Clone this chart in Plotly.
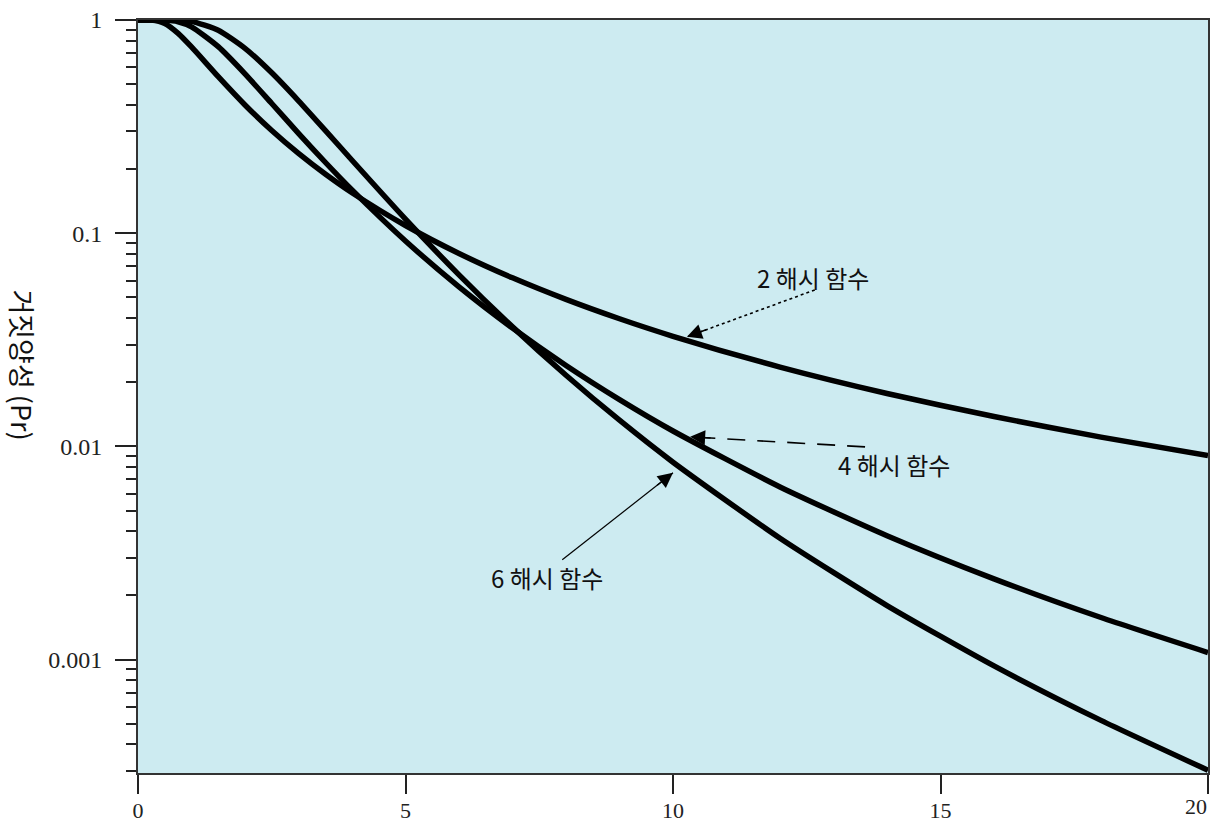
import math
import plotly.graph_objects as go

# x: bits per element (m/n)
x_vals = [0, 0.25, 0.5, 0.75, 1, 1.5, 2, 2.5, 3, 3.5, 4, 5, 6, 7, 8, 9, 10, 12, 14, 16, 18, 20]

# false positive rate for 2, 4, 6 hash functions
pr_2hash = [1.0, 0.99933, 0.9637, 0.86587, 0.74765, 0.54228, 0.39958, 0.30324, 0.23676, 0.18947,
            0.15482, 0.10869, 0.08035, 0.06176, 0.04893, 0.0397, 0.03286, 0.02357, 0.01772,
            0.01381, 0.01106, 0.009056]
pr_4hash = [1.0, 1.0, 0.99866, 0.98083, 0.92868, 0.74973, 0.55897, 0.40572, 0.29407, 0.2152,
            0.15966, 0.09195, 0.05606, 0.0359, 0.02397, 0.016577, 0.011814, 0.006457, 0.003815,
            0.002394, 0.001576, 0.00108]
pr_6hash = [1.0, 1.0, 1.0, 0.99799, 0.98522, 0.89501, 0.73609, 0.5652, 0.4179, 0.3038,
            0.21982, 0.11644, 0.0638, 0.03637, 0.021574, 0.013272, 0.008436, 0.003711, 0.001794,
            0.000935, 0.000519, 0.000303]

x_ticks = [0, 5, 10, 15, 20]
x_ticktext = ["0", "5", "10", "15", ""]   # last label drawn right-aligned below
last_x_label = "20"
y_ticks = [1, 0.1, 0.01, 0.001]
y_ticktext = ["1", "0.1", "0.01", "0.001"]

# callout labels and arrow positions (tail -> tip)
labels = ["2 해시 함수", "4 해시 함수", "6 해시 함수"]
label_x = [12.62, 14.13, 7.64]
label_y = [0.0617, 0.0082, 0.00242]
arrow_tail_x = [12.65, 13.59, 7.93]
arrow_tail_y = [0.0542, 0.00995, 0.00294]
arrow_tip_x = [10.26, 10.32, 10.0]
arrow_tip_y = [0.03266, 0.01109, 0.00752]
arrow_dash = ["dot", "18px,12px", "solid"]

fig = go.Figure()
for ys in (pr_2hash, pr_4hash, pr_6hash):
    fig.add_trace(go.Scatter(x=x_vals, y=ys, mode="lines",
                             line=dict(color="black", width=5.5, shape="spline", smoothing=0.6),
                             showlegend=False, hoverinfo="skip"))


def ly(v):
    return math.log10(v)


lab_font = dict(family="Noto Sans CJK KR, Noto Sans, sans-serif", size=24, color="#111")
for i in range(3):
    fig.add_annotation(x=label_x[i], y=ly(label_y[i]), text=labels[i], showarrow=False, font=lab_font)
    # arrow shaft
    fig.add_trace(go.Scatter(x=[arrow_tail_x[i], arrow_tip_x[i]], y=[arrow_tail_y[i], arrow_tip_y[i]],
                             mode="lines", line=dict(color="black", width=1.6 if i < 2 else 1.2,
                                                     dash=arrow_dash[i]),
                             showlegend=False, hoverinfo="skip"))
    # arrowhead: short arrow along shaft direction, in pixel offsets
    dx_px = (arrow_tail_x[i] - arrow_tip_x[i]) * 53.5
    dy_px = -(ly(arrow_tail_y[i]) - ly(arrow_tip_y[i])) * 213.3
    n = math.hypot(dx_px, dy_px)
    fig.add_annotation(x=arrow_tip_x[i], y=ly(arrow_tip_y[i]), ax=dx_px / n * 22, ay=dy_px / n * 22,
                       text="", showarrow=True, arrowhead=2, arrowsize=2.0, arrowwidth=1.5,
                       arrowcolor="black")

# y title (reads top to bottom)
fig.add_annotation(xref="paper", yref="paper", x=-0.108, y=0.542, xanchor="center", yanchor="middle",
                   text="거짓양성 (Pr)", textangle=90, showarrow=False,
                   font=dict(family="Noto Sans CJK KR, sans-serif", size=27, color="#111"))

minor_vals = [m * 10 ** e for e in range(-4, 0) for m in range(2, 10)]

tick_font = dict(family="Liberation Serif, Times New Roman, serif", size=24, color="#222")
x_tick_font = dict(family="Liberation Serif, Times New Roman, serif", size=22, color="#222")

# last x tick label, right-aligned at the tick as in the original
fig.add_annotation(x=x_ticks[-1], xref="x", yref="paper", y=0, yanchor="top", xanchor="right",
                   yshift=-19, xshift=1, text=last_x_label, showarrow=False, font=x_tick_font)

fig.update_layout(
    width=1213, height=826,
    margin=dict(l=138, r=5, t=20, b=53, autoexpand=False),
    paper_bgcolor="white",
    plot_bgcolor="#CDEBF1",
    xaxis=dict(range=[0, 20], tickvals=x_ticks, ticktext=x_ticktext, ticks="outside", ticklen=19,
               tickwidth=1.5, tickcolor="#222", showgrid=False, zeroline=False, showline=True,
               linecolor="#333", linewidth=1.5, mirror=True, tickfont=x_tick_font,
               ticklabelstandoff=-2, automargin=False),
    yaxis=dict(type="log", range=[math.log10(0.000294), 0], tickvals=y_ticks, ticktext=y_ticktext,
               ticks="outside", ticklen=21, tickwidth=1.5, tickcolor="#222", showgrid=False,
               zeroline=False, showline=True, linecolor="#333", linewidth=2, mirror=True,
               tickfont=tick_font, ticklabelstandoff=8, automargin=False,
               minor=dict(tickvals=minor_vals, ticks="outside", ticklen=10, tickwidth=2,
                          tickcolor="#222", showgrid=False)),
)

fig.write_html("out.html", config={"displayModeBar": False},
               post_script="document.body.style.margin='0';")
